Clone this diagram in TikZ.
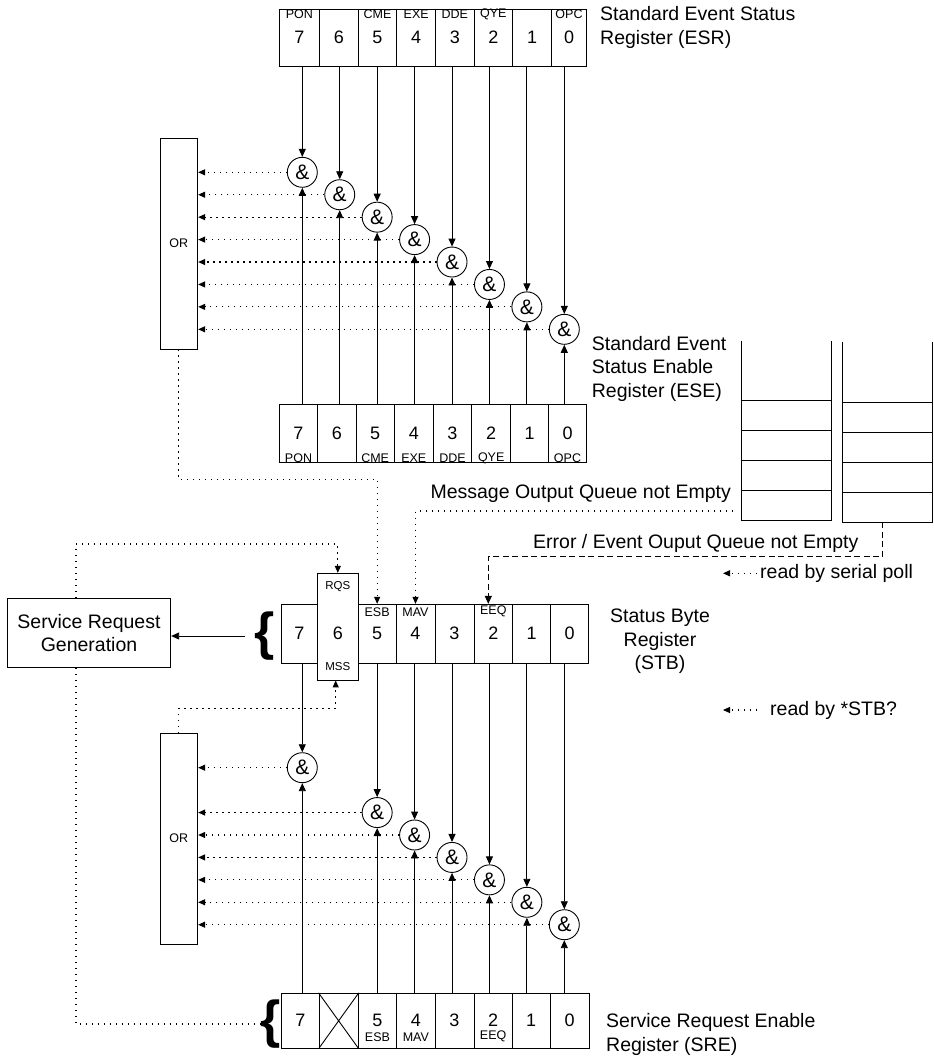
\documentclass[tikz,border=0pt]{standalone}
\usepackage{fontspec}
\setmainfont{Liberation Sans}
\usetikzlibrary{arrows.meta}
\begin{document}
\begin{tikzpicture}[x=1pt,y=-1pt,
  cell/.style={draw, line width=0.9pt, rectangle, inner sep=0pt, fill=white},
  numtxt/.style={font=\fontsize{18}{18}\selectfont, inner sep=0pt},
  labtxt/.style={font=\fontsize{12.5}{12.5}\selectfont, inner sep=0pt},
  smalltxt/.style={font=\fontsize{11.5}{11.5}\selectfont, inner sep=0pt},
  bigtxt/.style={font=\fontsize{19.5}{23.4}\selectfont, inner sep=0pt},
  gate/.style={draw, circle, line width=0.9pt, minimum size=30pt, inner sep=0pt, fill=white, font=\fontsize{21}{21}\selectfont},
  orbox/.style={draw, line width=0.9pt, rectangle, inner sep=0pt, minimum width=37.7pt, minimum height=210.7pt, font=\fontsize{12.5}{12.5}\selectfont},
  srgbox/.style={draw, line width=0.9pt, rectangle, inner sep=0pt, minimum width=163.4pt, minimum height=69pt, align=center, font=\fontsize{19.5}{23.4}\selectfont},
  bracetxt/.style={font=\fontsize{52}{52}\selectfont\bfseries, inner sep=0pt},
  solidarrow/.style={line width=0.9pt, -{Triangle[length=8pt,width=7pt]}},
  dotline/.style={line width=1.1pt, dash pattern=on 1.3pt off 4.7pt},
  dotarrow/.style={dotline, -{Triangle[length=7pt,width=6pt]}},
  dasharrow/.style={line width=1pt, dash pattern=on 6pt off 3.5pt, -{Triangle[length=8pt,width=7pt]}},
]
\fill[white] (0,0) rectangle (934,1058);
\useasboundingbox (0,0) rectangle (934,1058);

% ---------- Standard Event Status Register ----------
\foreach \bb/\lft/\rgt/\tx in {7/279.5/319.3/PON,6/319.3/358.3/{},5/358.3/396.7/CME,4/396.7/435.7/EXE,3/435.7/474/DDE,2/474/512.7/QYE,1/512.7/551.7/{},0/551.7/586.3/OPC}{
  \pgfmathsetmacro\ww{\rgt-\lft}
  \pgfmathsetmacro\cx{(\rgt+\lft)/2}
  \node[cell, minimum width=\ww pt, minimum height=56.7pt] (esr\bb) at (\cx,37.65) {};
  \node[numtxt] (esrn\bb) at (\cx,37) {\bb};
  \node[labtxt] (esrl\bb) at (\cx,14.5) {\tx};
}
\node[bigtxt, anchor=west, align=left] (esrlab) at (600,27.6) {Standard Event Status\\Register (ESR)};

% ---------- Standard Event Status Enable Register ----------
\foreach \bb/\lft/\rgt/\tx in {7/279.3/317.7/PON,6/317.7/356/{},5/356/394.3/CME,4/394.3/433.3/EXE,3/433.3/471.7/DDE,2/471.7/510.7/QYE,1/510.7/548.3/{},0/548.3/586.7/OPC}{
  \pgfmathsetmacro\ww{\rgt-\lft}
  \pgfmathsetmacro\cx{(\rgt+\lft)/2}
  \node[cell, minimum width=\ww pt, minimum height=58.4pt] (ese\bb) at (\cx,433.5) {};
  \node[numtxt] (esen\bb) at (\cx,433.3) {\bb};
  \node[labtxt] (esel\bb) at (\cx,458) {\tx};
}
\node[bigtxt, anchor=west, align=left] (eselab) at (591.7,368.6) {Standard Event\\Status Enable\\Register (ESE)};

% ---------- OR boxes ----------
\node[orbox] (or1) at (178.85,243.65) {OR};
\node[orbox] (or2) at (178.85,838.65) {OR};

% ---------- upper gates ----------
\foreach \bb/\ii in {7/0,6/1,5/2,4/3,3/4,2/5,1/6,0/7}{
  \node[gate] (g\bb) at ({302.3+37.43*\ii},{172.3+22.43*\ii}) {\&};
  \draw[solidarrow] (g\bb |- esr\bb.south) -- (g\bb.north);
  \draw[solidarrow] (g\bb |- ese\bb.north) -- (g\bb.south);
  \draw[dotarrow] (g\bb.west) -- (g\bb.west -| or1.east);
}

% ---------- output queues ----------
\draw[line width=0.9pt] (741.7,340.7) -- (741.7,520) -- (831,520) -- (831,340.7);
\foreach \yy in {400,430,460,490}{\draw[line width=0.9pt] (741.7,\yy) -- (831,\yy);}
\draw[line width=0.9pt] (842.3,341.7) -- (842.3,522) -- (932,522) -- (932,341.7);
\foreach \yy in {402,432,462,492}{\draw[line width=0.9pt] (842.3,\yy) -- (932,\yy);}
\coordinate (q2b) at (882.5,522);
\coordinate (mavend) at (733,511);

\node[bigtxt, anchor=east] (msgtxt) at (731,494) {Message Output Queue not Empty};
\node[bigtxt, anchor=west] (errtxt) at (533,543) {Error / Event Ouput Queue not Empty};

% ---------- Status Byte Register ----------
\foreach \bb/\lft/\rgt/\tx in {7/281.7/317.3/{},5/358.3/396/ESB,4/396/435/MAV,3/435/474/{},2/474/512.7/EEQ,1/512.7/550.7/{},0/550.7/588.3/{}}{
  \pgfmathsetmacro\ww{\rgt-\lft}
  \pgfmathsetmacro\cx{(\rgt+\lft)/2}
  \node[cell, minimum width=\ww pt, minimum height=59pt] (stb\bb) at (\cx,633.8) {};
  \node[numtxt] (stbn\bb) at (\cx,633.3) {\bb};
  \node[labtxt] (stbl\bb) at (\cx,611.7) {\tx};
}
\node[cell, minimum width=41pt, minimum height=106.7pt] (stb6) at (337.8,626.65) {};
\node[numtxt] (stbn6) at (337.8,633.3) {6};
\node[smalltxt] (rqs) at (337.8,587) {RQS};
\node[smalltxt] (mss) at (337.8,667) {MSS};
\node[bigtxt, align=center] (stblab) at (660,641.3) {Status Byte\\Register\\(STB)};

% ---------- Service Request Enable Register ----------
\foreach \bb/\lft/\rgt/\tx in {7/281.7/319/{},6/319/358.3/{},5/358.3/396.7/ESB,4/396.7/435/MAV,3/435/474/{},2/474/512.3/EEQ,1/512.3/550/{},0/550/589/{}}{
  \pgfmathsetmacro\ww{\rgt-\lft}
  \pgfmathsetmacro\cx{(\rgt+\lft)/2}
  \node[cell, minimum width=\ww pt, minimum height=55pt] (sre\bb) at (\cx,1020.8) {};
  \node[labtxt] (srel\bb) at (\cx,1036.7) {\tx};
}
\foreach \bb in {7,5,4,3,2,1,0}{\node[numtxt] (sren\bb) at (sre\bb |- 0,1020) {\bb};}
\draw[line width=0.9pt] (sre6.north west) -- (sre6.south east) (sre6.south west) -- (sre6.north east);
\node[bigtxt, anchor=west, align=left] (srelab) at (606,1034.5) {Service Request Enable\\Register (SRE)};

% ---------- lower gates ----------
\foreach \bb/\ii in {7/0,5/2,4/3,3/4,2/5,1/6,0/7}{
  \node[gate] (h\bb) at ({302.3+37.43*\ii},{767.7+22.43*\ii}) {\&};
  \draw[solidarrow] (h\bb |- stb\bb.south) -- (h\bb.north);
  \draw[solidarrow] (h\bb |- sre\bb.north) -- (h\bb.south);
  \draw[dotarrow] (h\bb.west) -- (h\bb.west -| or2.east);
}

% ---------- service request generation ----------
\node[srgbox] (srg) at (89,632.8) {Service Request\\Generation};
\node[bracetxt] (bstb) at (264.5,636) {\{};
\node[bracetxt] (bsre) at (270.5,1024) {\{};
\draw[solidarrow] ([xshift=-9pt]bstb.west) -- (bstb.west -| srg.east);

% ---------- flows into the status byte ----------
\coordinate (esbturn) at (377.15,479.3);
\draw[dotarrow] (or1.south) |- (esbturn) -- (stb5.north);
\draw[dotarrow] (mavend) -| (stb4.north);
\coordinate (eeqturn) at (488.3,556.7);
\draw[dasharrow] (q2b) |- (eeqturn) -- (eeqturn |- stb2.north);
\coordinate (rqsturn) at (337.8,544);
\draw[dotarrow] ([xshift=-13pt]srg.north) |- (rqsturn) -- (stb6.north);
\coordinate (mssturn) at (335.7,708.3);
\draw[dotarrow] (or2.north) |- (mssturn) -- (mssturn |- stb6.south);
\draw[dotline] ([xshift=-13pt]srg.south) |- (bsre.west);

% ---------- read notes ----------
\node[bigtxt, anchor=west] (rsp) at (760,573.3) {read by serial poll};
\coordinate (rsptip) at (723,573.3);
\draw[dotarrow] ([xshift=-3pt]rsp.west) -- (rsptip);
\node[bigtxt, anchor=west] (rstb) at (770,710) {read by *STB?};
\coordinate (rstbtip) at (723,710);
\draw[dotarrow] ([xshift=-13pt]rstb.west) -- (rstbtip);
\end{tikzpicture}
\end{document}
